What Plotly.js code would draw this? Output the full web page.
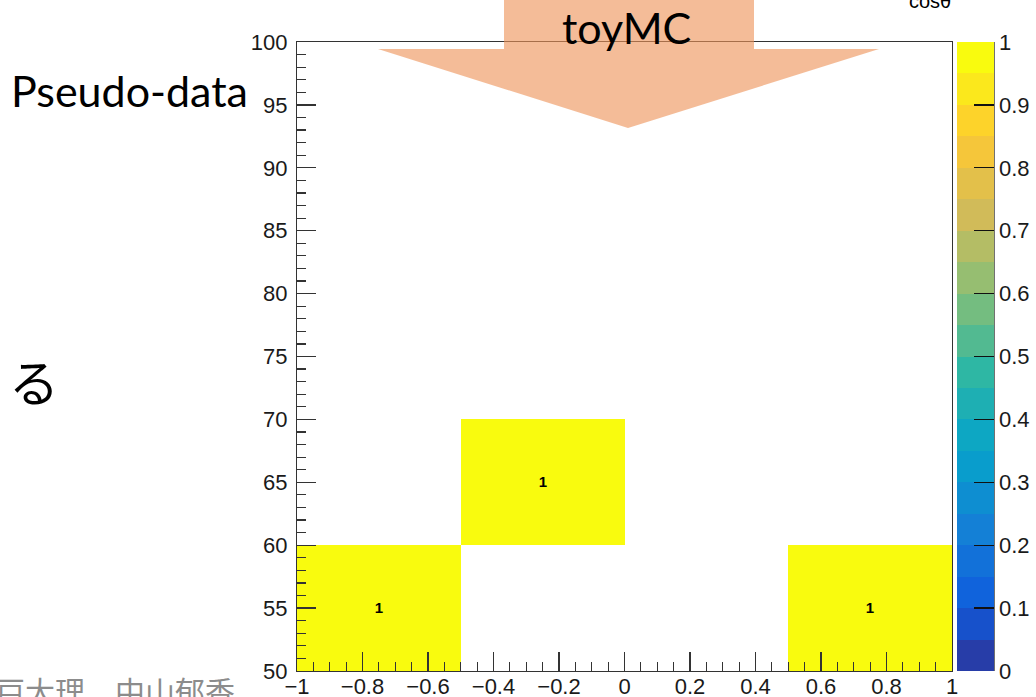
<!DOCTYPE html>
<html>
<head>
<meta charset="utf-8">
<script src="https://cdn.plot.ly/plotly-3.0.1.min.js"></script>
<style>
  html, body { margin: 0; padding: 0; background: #fff; }
  #chart { width: 1036px; height: 697px; }
</style>
</head>
<body>
<div id="chart"></div>
<script>
// 2D histogram: cos(theta) bins along x, 50..100 bins along y
const xEdges = [-1, -0.5, 0, 0.5, 1];
const yEdges = [50, 60, 70, 80, 90, 100];
// entries per bin, rows follow yEdges, columns follow xEdges (null = empty bin)
const row50 = [1, null, null, 1];
const row60 = [null, 1, null, null];
const row70 = [null, null, null, null];
const row80 = [null, null, null, null];
const row90 = [null, null, null, null];
const counts = [row50, row60, row70, row80, row90];

const zTicks = [0, 0.1, 0.2, 0.3, 0.4, 0.5, 0.6, 0.7, 0.8, 0.9, 1];

// kBird palette (255 colours), sampled into 20 flat contour bands
const birdStops = [0, 0.125, 0.25, 0.375, 0.5, 0.625, 0.75, 0.875, 1];
const birdR = [0.2082, 0.0592, 0.0780, 0.0232, 0.1802, 0.5301, 0.8186, 0.9956, 0.9764];
const birdG = [0.1664, 0.3599, 0.5041, 0.6419, 0.7178, 0.7492, 0.7328, 0.7862, 0.9832];
const birdB = [0.5293, 0.8684, 0.8385, 0.7914, 0.6425, 0.4662, 0.3499, 0.1968, 0.0539];
const nPalette = 255;
const nBands = 20;

function birdAt(t) {
  let k = 0;
  while (k < birdStops.length - 2 && t > birdStops[k + 1]) k++;
  const f = (t - birdStops[k]) / (birdStops[k + 1] - birdStops[k]);
  const c = arr => Math.round(255 * (arr[k] + f * (arr[k + 1] - arr[k])));
  return 'rgb(' + c(birdR) + ',' + c(birdG) + ',' + c(birdB) + ')';
}
const colorscale = [];
for (let i = 0; i < nBands; i++) {
  // same level -> palette index rule as the histogram painter
  const idx = Math.floor((i + 0.99) * nPalette / nBands);
  const col = birdAt(Math.min(idx, nPalette - 1) / (nPalette - 1));
  colorscale.push([i / nBands, col]);
  colorscale.push([(i + 1) / nBands, col]);
}

// frame of the plotting area in page pixels, used for decorations
const frame = { l: 297, r: 952, t: 42, b: 671 };
const fx = p => (p - frame.l) / (frame.r - frame.l);
const fy = p => (frame.b - p) / (frame.b - frame.t);

const axisFont = { family: 'Liberation Sans, Arial, sans-serif', size: 22, color: '#1a1a1a' };
const lineCol = '#333333';

const trace = {
  type: 'heatmap',
  x: xEdges,
  y: yEdges,
  z: counts,
  zmin: 0,
  zmax: 1,
  colorscale: colorscale,
  hoverongaps: false,
  texttemplate: '%{z}',
  textfont: { family: 'Liberation Sans, Arial, sans-serif', size: 15, color: '#000', weight: 'bold' },
  xgap: 0, ygap: 0,
  colorbar: {
    x: fx(957), xanchor: 'left', xpad: 0,
    y: 0.5, yanchor: 'middle', ypad: 0,
    len: 1, lenmode: 'fraction',
    thickness: 37, thicknessmode: 'pixels',
    outlinewidth: 0,
    tickmode: 'array', tickvals: zTicks, ticktext: zTicks.map(String),
    ticks: 'inside', ticklen: 20, tickwidth: 1.2, tickcolor: '#111',
    tickfont: axisFont
  }
};

const arrowPath = [
  [504, -5], [754, -5], [754, 49], [879, 49], [628, 128], [378, 49], [504, 49]
].map((p, i) => (i ? 'L' : 'M') + fx(p[0]) + ',' + fy(p[1])).join(' ') + ' Z';

const layout = {
  width: 1036,
  height: 697,
  margin: { l: frame.l, r: 1036 - frame.r, t: frame.t, b: 697 - frame.b, pad: 0, autoexpand: false },
  paper_bgcolor: '#ffffff',
  plot_bgcolor: '#ffffff',
  showlegend: false,
  xaxis: {
    range: [-1, 1],
    tickmode: 'linear', tick0: -1, dtick: 0.2,
    ticks: 'inside', ticklen: 19, tickwidth: 1.2, tickcolor: lineCol,
    minor: { dtick: 0.05, tick0: -1, ticks: 'inside', ticklen: 9, tickwidth: 1.2, tickcolor: lineCol, showgrid: false },
    showline: true, linecolor: lineCol, linewidth: 1.2, mirror: true,
    showgrid: false, zeroline: false,
    tickfont: axisFont,
    ticklabelstandoff: -5
  },
  yaxis: {
    range: [50, 100],
    tickmode: 'linear', tick0: 50, dtick: 5,
    ticks: 'inside', ticklen: 19, tickwidth: 1.2, tickcolor: lineCol,
    minor: { dtick: 1, tick0: 50, ticks: 'inside', ticklen: 9, tickwidth: 1.2, tickcolor: lineCol, showgrid: false },
    showline: true, linecolor: lineCol, linewidth: 1.2, mirror: true,
    showgrid: false, zeroline: false,
    tickfont: axisFont,
    ticklabelstandoff: 4
  },
  shapes: [
    {
      type: 'path', xref: 'paper', yref: 'paper', path: arrowPath,
      fillcolor: 'rgb(238,147,88)', opacity: 0.62, line: { width: 0 }, layer: 'above'
    },
    {
      type: 'line', xref: 'paper', yref: 'paper',
      x0: fx(994), x1: fx(994), y0: 0, y1: 1,
      line: { color: '#111', width: 1.2 }, layer: 'above'
    }
  ],
  annotations: [
    {
      text: 'toyMC', xref: 'paper', yref: 'paper', x: fx(626), y: fy(28),
      xanchor: 'center', yanchor: 'middle', showarrow: false,
      font: { family: 'Lato, sans-serif', size: 43, color: '#000' }
    },
    {
      text: 'Pseudo-data', xref: 'paper', yref: 'paper', x: fx(9), y: fy(90),
      xanchor: 'left', yanchor: 'middle', showarrow: false,
      font: { family: 'Lato, sans-serif', size: 43, color: '#000' }
    },
    {
      text: 'る', xref: 'paper', yref: 'paper', x: fx(34), y: fy(380),
      xanchor: 'center', yanchor: 'middle', showarrow: false,
      font: { family: 'Noto Sans CJK JP, sans-serif', size: 50, color: '#000' }
    },
    {
      text: 'cosθ', xref: 'paper', yref: 'paper', x: fx(953), y: fy(1),
      xanchor: 'right', yanchor: 'middle', showarrow: false,
      font: { family: 'Liberation Sans, Arial, sans-serif', size: 20, color: '#000' }
    },
    {
      text: '神戸大理　中山郁香', xref: 'paper', yref: 'paper', x: fx(-37), y: fy(690),
      xanchor: 'left', yanchor: 'middle', showarrow: false,
      font: { family: 'Noto Sans CJK JP, sans-serif', size: 30, color: '#8c8c8c' }
    }
  ]
};

Plotly.newPlot('chart', [trace], layout, { displayModeBar: false, staticPlot: true });
</script>
</body>
</html>
